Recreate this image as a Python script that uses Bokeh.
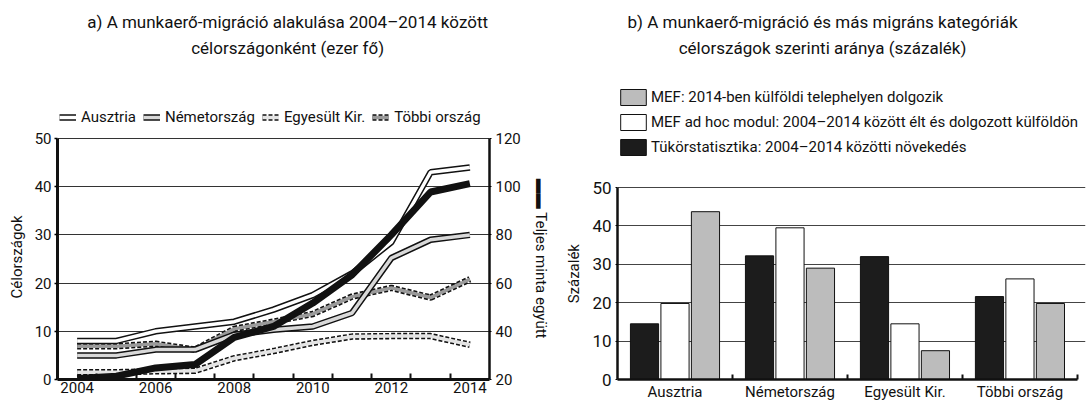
import numpy as np
from bokeh.plotting import figure
from bokeh.models import (Range1d, LinearAxis, FixedTicker, Legend, LegendItem,
                          Label)
from bokeh.layouts import row
from bokeh.embed import file_html
from bokeh.resources import INLINE

FONT = "Roboto"
INK = "#111111"
NB = "\u00a0"

# ---------------- data: chart a) ----------------
years = [2004, 2005, 2006, 2007, 2008, 2009, 2010, 2011, 2012, 2013, 2014]
ausztria = [8.0, 8.0, 10.0, 11.0, 12.0, 14.5, 17.5, 22.0, 28.5, 43.0, 44.0]
nemetorszag = [5.0, 5.0, 6.2, 6.2, 9.3, 10.3, 11.0, 13.8, 25.2, 29.0, 30.0]
egyesult = [1.5, 1.5, 1.7, 1.8, 4.4, 5.9, 7.6, 8.9, 9.0, 9.0, 7.2]
tobbi = [6.9, 6.9, 7.4, 6.2, 10.5, 12.0, 13.6, 17.2, 19.0, 17.0, 20.8]
teljes = [20.4, 21.4, 24.8, 26.2, 37.5, 42.0, 51.7, 63.4, 80.0, 97.8, 101.3]
x_labels = [2004, 2006, 2008, 2010, 2012, 2014]
left_ticks = [0, 10, 20, 30, 40, 50]
right_ticks = [20, 40, 60, 80, 100, 120]
title_a = ["a) A munkaerő-migráció alakulása 2004–2014 között",
           "célországonként (ezer fő)"]

# ---------------- data: chart b) ----------------
categories = ["Ausztria", "Németország", "Egyesült Kir.", "Többi ország"]
tukor = [14.5, 32.2, 32.0, 21.6]
adhoc = [19.8, 39.5, 14.5, 26.2]
mef = [43.7, 29.0, 7.5, 19.8]
bar_ticks = [0, 10, 20, 30, 40, 50]
title_b = ["b) A munkaerő-migráció és más migráns kategóriák",
           "célországok szerinti aránya (százalék)"]

H = 403
BOTTOM = 24          # both frames end 379 px from the top


def style_text(ax, size="15px"):
    ax.major_label_text_font = FONT
    ax.major_label_text_font_size = size
    ax.major_label_text_color = INK
    ax.axis_label_text_font = FONT
    ax.axis_label_text_font_size = "15px"
    ax.axis_label_text_font_style = "normal"
    ax.axis_label_text_color = INK


def add_text(p, x, y, text, size="17px", **kw):
    p.add_layout(Label(x=x, y=y, text=text, text_font=FONT,
                       text_font_size=size, text_color=INK, **kw))


# ======================= figure a) =======================
p1 = figure(width=555, height=H, x_range=Range1d(2003.5, 2014.5),
            y_range=Range1d(0, 78.63), output_backend="svg",
            toolbar_location=None, title=None,
            min_border_left=57, min_border_right=66,
            min_border_top=0, min_border_bottom=BOTTOM)
p1.extra_y_ranges = {"total": Range1d(20, 177.26)}
p1.outline_line_color = None
p1.xgrid.visible = False
p1.ygrid.ticker = FixedTicker(ticks=left_ticks[1:])
p1.ygrid.grid_line_color = "#333333"
p1.ygrid.grid_line_width = 1

xa = p1.xaxis[0]
xa.ticker = FixedTicker(ticks=x_labels,
                        minor_ticks=[y + 0.5 for y in years[:-1]])
xa.major_tick_in = 0
xa.major_tick_out = 0
xa.minor_tick_in = 6
xa.minor_tick_out = 0
xa.minor_tick_line_width = 2
xa.minor_tick_line_color = INK
xa.axis_line_width = 3
xa.axis_line_color = INK
xa.major_label_standoff = 2
style_text(xa)

ya = p1.yaxis[0]
ya.ticker = FixedTicker(ticks=left_ticks)
ya.bounds = (0, 50)
ya.minor_tick_line_color = None
ya.major_tick_in = 0
ya.major_tick_out = 3
ya.major_tick_line_width = 1.5
ya.axis_line_width = 3
ya.axis_line_color = INK
ya.major_label_standoff = 3
ya.axis_label = "Célországok" + NB * 36
ya.axis_label_standoff = 6
style_text(ya)

ra = LinearAxis(y_range_name="total", ticker=FixedTicker(ticks=right_ticks),
                bounds=(20, 120))
ra.minor_tick_line_color = None
ra.major_tick_in = 0
ra.major_tick_out = 2
ra.axis_line_width = 2.5
ra.axis_line_color = INK
ra.major_label_standoff = 4
ra.axis_label = NB * 37 + "▬▬ Teljes minta együtt"
ra.axis_label_standoff = 8
style_text(ra)
p1.add_layout(ra, "right")


def outlined(vals, fill, dashed=False):
    outer = p1.line(years, vals, line_color=INK, line_width=6.5,
                    line_dash="4 2" if dashed else "solid")
    inner = p1.line(years, vals, line_color=fill, line_width=3.5)
    return [outer, inner]


r_egy = outlined(egyesult, "#e4e4e4", dashed=True)
r_tob = outlined(tobbi, "#9a9a9a", dashed=True)
r_nem = outlined(nemetorszag, "#d8d8d8")
r_aus = outlined(ausztria, "#ffffff")
r_tel = p1.line(years, teljes, y_range_name="total", line_color=INK,
                line_width=7)

leg1 = Legend(items=[LegendItem(label="Ausztria", renderers=r_aus),
                     LegendItem(label="Németország", renderers=r_nem),
                     LegendItem(label="Egyesült Kir.", renderers=r_egy),
                     LegendItem(label="Többi ország", renderers=r_tob)],
              orientation="horizontal", location=(2, 252))
leg1.margin = 0
leg1.padding = 0
leg1.spacing = 7
leg1.label_standoff = 5
leg1.glyph_width = 17
leg1.glyph_height = 20
leg1.label_height = 20
leg1.border_line_color = None
leg1.background_fill_alpha = 0
leg1.label_text_font = FONT
leg1.label_text_font_size = "15px"
leg1.label_text_color = INK
p1.add_layout(leg1, "center")

add_text(p1, 2009.36, 72.0, title_a[0], text_align="center")
add_text(p1, 2009.36, 66.8, title_a[1], text_align="center")

# ======================= figure b) =======================
p2 = figure(width=532, height=H, x_range=Range1d(0, 4.07),
            y_range=Range1d(0, 98.7), output_backend="svg",
            toolbar_location=None, title=None,
            min_border_left=62, min_border_right=2,
            min_border_top=0, min_border_bottom=BOTTOM)
p2.outline_line_color = None
p2.xgrid.visible = False
p2.ygrid.ticker = FixedTicker(ticks=bar_ticks[1:])
p2.ygrid.grid_line_color = "#444444"
p2.ygrid.grid_line_width = 1

centers = np.arange(len(categories)) + 0.5
off = 0.265
bw = 0.245
b_t = p2.vbar(x=centers - off, top=tukor, width=bw, fill_color="#1c1c1c",
              line_color=INK, line_width=1)
b_a = p2.vbar(x=centers, top=adhoc, width=bw, fill_color="#ffffff",
              line_color=INK, line_width=1)
b_m = p2.vbar(x=centers + off, top=mef, width=bw, fill_color="#bcbcbc",
              line_color=INK, line_width=1)

xb = p2.xaxis[0]
xb.ticker = FixedTicker(ticks=list(centers),
                        minor_ticks=list(range(1, len(categories) + 1)))
xb.bounds = (0, len(categories))
xb.major_label_overrides = {float(c): n for c, n in zip(centers, categories)}
xb.major_tick_in = 0
xb.major_tick_out = 0
xb.minor_tick_in = 5
xb.minor_tick_out = 0
xb.minor_tick_line_width = 2
xb.minor_tick_line_color = INK
xb.axis_line_width = 2.5
xb.axis_line_color = INK
xb.major_label_standoff = 3
style_text(xb)

yb = p2.yaxis[0]
yb.ticker = FixedTicker(ticks=bar_ticks)
yb.bounds = (0, 50)
yb.minor_tick_line_color = None
yb.major_tick_in = 0
yb.major_tick_out = 2
yb.axis_line_width = 2.5
yb.axis_line_color = INK
yb.major_label_standoff = 4
yb.axis_label = "Százalék" + NB * 45
yb.axis_label_standoff = 6
style_text(yb, size="17px")

leg2 = Legend(items=[LegendItem(label="MEF: 2014-ben külföldi telephelyen dolgozik", renderers=[b_m]),
                     LegendItem(label="MEF ad hoc modul: 2004–2014 között élt és dolgozott külföldön", renderers=[b_a]),
                     LegendItem(label="Tükörstatisztika: 2004–2014 közötti növekedés", renderers=[b_t])],
              orientation="vertical", location=(0, 222))
leg2.margin = 0
leg2.padding = 0
leg2.spacing = 5
leg2.label_standoff = 2
leg2.glyph_width = 32
leg2.glyph_height = 20
leg2.label_height = 20
leg2.border_line_color = None
leg2.background_fill_alpha = 0
leg2.label_text_font = FONT
leg2.label_text_font_size = "15px"
leg2.label_text_color = INK
p2.add_layout(leg2, "center")

add_text(p2, 1.783, 90.4, title_b[0], text_align="center")
add_text(p2, 1.783, 83.85, title_b[1], text_align="center")

layout = row(p1, p2, spacing=0)
open("out.html", "w").write(file_html(layout, INLINE))
